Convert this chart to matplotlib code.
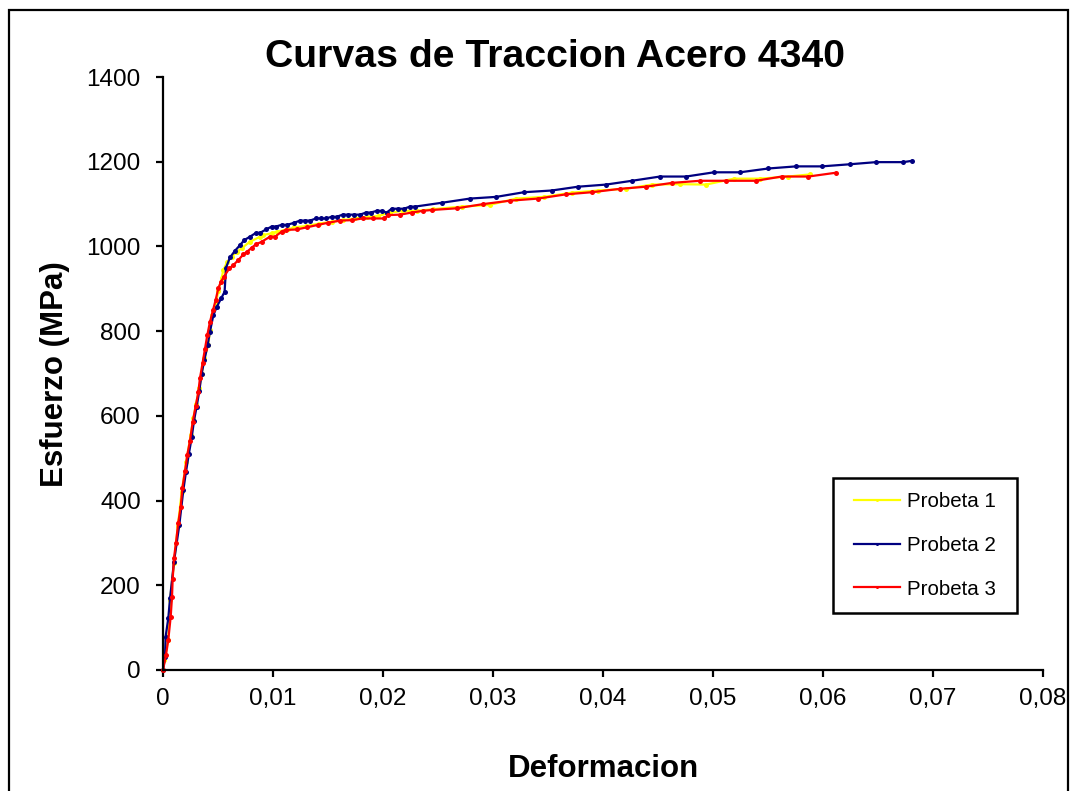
import matplotlib
matplotlib.use("Agg")
import matplotlib.pyplot as plt
from matplotlib.ticker import FixedLocator, FuncFormatter
from matplotlib.patches import Rectangle

plt.rcParams['font.family'] = ['Liberation Sans', 'DejaVu Sans']

# ---------------- data ----------------
title = "Curvas de Traccion Acero 4340"
xlabel = "Deformacion"
ylabel = "Esfuerzo (MPa)"
series_names = ["Probeta 1", "Probeta 2", "Probeta 3"]

x_ticks = [0, 0.01, 0.02, 0.03, 0.04, 0.05, 0.06, 0.07, 0.08]
x_ticklabels = ["0", "0,01", "0,02", "0,03", "0,04", "0,05", "0,06", "0,07", "0,08"]
y_ticks = [0, 200, 400, 600, 800, 1000, 1200, 1400]

strain1 = [0, 0.00009, 0.00048, 0.00064, 0.0010, 0.00135, 0.0017, 0.0021, 0.00252,
           0.00276, 0.0030, 0.0033, 0.00352, 0.00376, 0.00412, 0.00427, 0.00442,
           0.00482, 0.00503, 0.00533, 0.00548, 0.00585, 0.00624, 0.00676, 0.00715,
           0.00791, 0.00882, 0.00912, 0.00988, 0.01033, 0.01088, 0.01139, 0.01191,
           0.0130, 0.01421, 0.01533, 0.01639, 0.01745, 0.01852, 0.01958, 0.02064,
           0.02185, 0.02306, 0.02458, 0.02715, 0.02970, 0.03209, 0.03464, 0.03718,
           0.03955, 0.04209, 0.04445, 0.0470, 0.04936, 0.05191, 0.05427, 0.05682,
           0.05882]
stress1 = [0, 24, 71, 165, 252, 340, 421, 490, 555,
           594, 628, 665, 700, 736, 767, 803, 838,
           866, 895, 925, 944, 964, 976, 988, 996,
           1011, 1023, 1027, 1031, 1035, 1037, 1040, 1045,
           1048, 1054, 1058, 1062, 1066, 1069, 1072, 1080,
           1084, 1084, 1088, 1094, 1098, 1113, 1117, 1127,
           1132, 1136, 1146, 1147, 1146, 1160, 1160, 1165,
           1170]

strain2 = [0, 0.00018, 0.00024, 0.00048, 0.00064, 0.0010, 0.00148, 0.00185, 0.00209,
           0.00235, 0.00261, 0.00282, 0.00306, 0.0033, 0.00352, 0.00376, 0.00406,
           0.00427, 0.00458, 0.0049, 0.0053, 0.0056, 0.00573, 0.00609, 0.00655,
           0.0070, 0.00739, 0.00791, 0.00845, 0.00882, 0.00936, 0.00988, 0.01027,
           0.01079, 0.0113, 0.01194, 0.01245, 0.01291, 0.01336, 0.01391, 0.01433,
           0.01482, 0.01533, 0.01579, 0.01633, 0.01685, 0.01736, 0.01791, 0.01845,
           0.01888, 0.01943, 0.01988, 0.02033, 0.02079, 0.02139, 0.02191, 0.02245,
           0.02291, 0.02533, 0.02791, 0.03030, 0.03282, 0.03533, 0.03773, 0.04027,
           0.04264, 0.04518, 0.04755, 0.05009, 0.05245, 0.05503, 0.05755, 0.05991,
           0.06245, 0.06482, 0.0673, 0.06806]
stress2 = [0, 30, 79, 122, 169, 256, 342, 425, 468,
           510, 549, 589, 622, 659, 700, 732, 767,
           799, 838, 858, 878, 893, 950, 974, 990,
           1003, 1015, 1023, 1032, 1032, 1040, 1047, 1047,
           1051, 1051, 1056, 1061, 1061, 1061, 1066, 1066,
           1066, 1070, 1070, 1075, 1075, 1075, 1075, 1080,
           1080, 1084, 1084, 1080, 1089, 1089, 1089, 1094,
           1094, 1103, 1113, 1117, 1128, 1132, 1141, 1146,
           1155, 1165, 1165, 1175, 1175, 1184, 1189, 1189,
           1194, 1199, 1199, 1202]

strain3 = [0, 0.00027, 0.00048, 0.0007, 0.00082, 0.00088, 0.0010, 0.00118, 0.00139,
           0.00161, 0.00176, 0.0020, 0.00221, 0.00245, 0.0027, 0.00297, 0.00321,
           0.00336, 0.0036, 0.00382, 0.00403, 0.00427, 0.00455, 0.00479, 0.00503,
           0.00527, 0.00555, 0.00603, 0.0064, 0.00685, 0.0073, 0.00767, 0.00806,
           0.00845, 0.00897, 0.00973, 0.01018, 0.01079, 0.01118, 0.01215, 0.01306,
           0.01412, 0.01503, 0.01609, 0.01715, 0.01815, 0.01912, 0.0201, 0.02048,
           0.02155, 0.02261, 0.02361, 0.02442, 0.0267, 0.02912, 0.03155, 0.03412,
           0.03664, 0.0390, 0.04155, 0.04391, 0.04627, 0.04882, 0.05118, 0.05391,
           0.05624, 0.05867, 0.06118]
stress3 = [0, 35, 71, 126, 173, 215, 264, 301, 348,
           386, 429, 470, 508, 541, 586, 623, 656,
           689, 725, 759, 791, 822, 850, 874, 901,
           917, 929, 948, 956, 968, 981, 988, 997,
           1005, 1011, 1023, 1023, 1035, 1039, 1040, 1045,
           1051, 1056, 1061, 1062, 1066, 1066, 1066, 1074,
           1075, 1080, 1084, 1086, 1090, 1100, 1108, 1113,
           1123, 1128, 1136, 1141, 1150, 1155, 1155, 1155,
           1165, 1165, 1174]

colors = ["#FFFF00", "#000080", "#FF0000"]

# ---------------- figure ----------------
W, H = 1073, 791
fig = plt.figure(figsize=(W / 100, H / 100), dpi=100)
fig.patch.set_facecolor("white")

# outer chart-area border
fig.patches.append(Rectangle((9 / W, -0.02), (1068 - 9) / W, 1 - 10 / H + 0.02,
                             transform=fig.transFigure, fill=False,
                             edgecolor="black", linewidth=1.6, zorder=0))

ax = fig.add_axes([163 / W, 1 - 670 / H, (1043 - 163) / W, (670 - 77) / H])

for xs, ys, c, name in zip([strain1, strain2, strain3], [stress1, stress2, stress3],
                           colors, series_names):
    ax.plot(xs, ys, color=c, linewidth=1.6, marker="o", markersize=3.6,
            markeredgewidth=0, label=name, clip_on=False)

ax.set_xlim(0, 0.08)
ax.set_ylim(0, 1400)
ax.xaxis.set_major_locator(FixedLocator(x_ticks))
ax.xaxis.set_major_formatter(FuncFormatter(
    lambda v, p: x_ticklabels[int(round(v * 100))] if 0 <= round(v * 100) < len(x_ticklabels) else ""))
ax.yaxis.set_major_locator(FixedLocator(y_ticks))

for s in ["top", "right"]:
    ax.spines[s].set_visible(False)
for s in ["left", "bottom"]:
    ax.spines[s].set_linewidth(1.6)
    ax.spines[s].set_color("black")

ax.tick_params(axis="both", direction="out", length=5, width=1.6, labelsize=17.5,
               colors="black")
ax.tick_params(axis="x", pad=8)
ax.tick_params(axis="y", pad=11)

ax.set_xlabel(xlabel, fontsize=22.5, fontweight="bold", va="baseline")
ax.xaxis.set_label_coords(0.5, -(777 - 670) / (670 - 77))
ax.set_ylabel(ylabel, fontsize=22.5, fontweight="bold", va="baseline", ha="center",
              rotation=90, rotation_mode="anchor")
ax.yaxis.set_label_coords(-(163 - 63) / (1043 - 163), (670 - 374) / (670 - 77))

fig.text(555 / W, 1 - 67 / H, title, fontsize=28.3, fontweight="bold",
         ha="center", va="baseline")

# legend box
bx0, bx1, by0, by1 = 833, 1017, 478, 613
leg = ax.legend(loc="center", bbox_to_anchor=(((bx0 + bx1) / 2 - 163) / 880,
                                               (670 - (by0 + by1) / 2) / 593),
                frameon=False, fontsize=14.8, handlelength=2.25, handletextpad=0.35,
                labelspacing=1.2, borderpad=0, markerscale=0.6, numpoints=1)
ax.add_patch(Rectangle(((bx0 - 163) / 880, (670 - by1) / 593),
                       (bx1 - bx0) / 880, (by1 - by0) / 593,
                       transform=ax.transAxes, fill=False, edgecolor="black",
                       linewidth=1.8, clip_on=False, zorder=4))

fig.savefig("out.png", dpi=100, facecolor="white")
